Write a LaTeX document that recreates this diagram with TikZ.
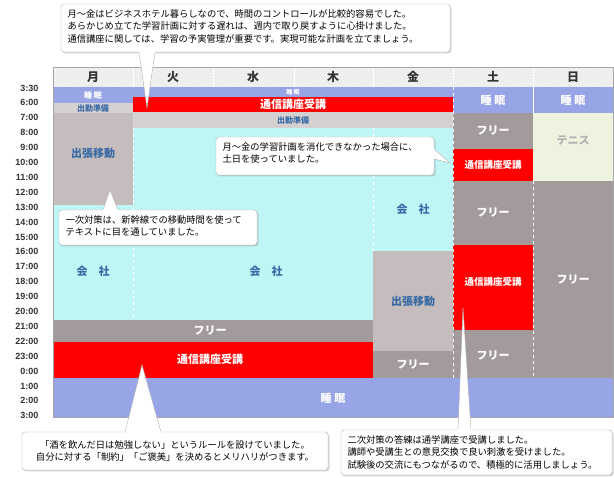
\documentclass[tikz,border=0pt]{standalone}
\usepackage{fontspec}
\setmainfont{Liberation Sans}
\newfontfamily\jp{Noto Sans CJK JP}
\usetikzlibrary{patterns,shadows}
\definecolor{slp}{HTML}{97A5E6}
\definecolor{wrk}{HTML}{C0F5F5}
\definecolor{trv}{HTML}{C5BDBD}
\definecolor{fre}{HTML}{A39A9C}
\definecolor{ten}{HTML}{EEF3E0}
\definecolor{txb}{HTML}{3A6AA5}
\definecolor{cbd}{HTML}{B0B0B0}
\newcommand\blk[7]{\fill[#5] (#1,#2) rectangle (#3,#4);
  \node[#6] (#7) at ({(#1+#3)/2},{(#2+#4)/2}) {};}
\tikzset{
 wl/.style={text=white,font=\jp\bfseries\fontsize{11}{12}\selectfont},
 wls/.style={text=white,font=\jp\bfseries\fontsize{8}{9}\selectfont},
 bl/.style={text=txb,font=\jp\bfseries\fontsize{11}{12}\selectfont},
 bls/.style={text=txb,font=\jp\bfseries\fontsize{8}{9}\selectfont},
 tl/.style={anchor=east,font=\bfseries\fontsize{9}{10}\selectfont,text=black!80},
 callout/.style={draw=cbd,fill=white,rounded corners=3pt,drop shadow={shadow xshift=1.5pt,shadow yshift=-1.5pt,opacity=0.3}},
 ctext/.style={font=\jp\fontsize{9.3}{12.5}\selectfont,align=left,anchor=north west},
 sep/.style={white,dashed,line width=0.5pt},
 hdr/.style={font=\jp\bfseries\fontsize{12}{13}\selectfont,text=black!80}
}
\begin{document}
\begin{tikzpicture}[x=1pt,y=-1pt]
\useasboundingbox (0,0) rectangle (614,478);
\fill[white] (0,0) rectangle (614,478);
% header
\fill[gray!18] (53,67) rectangle (613,87);
\fill[pattern=north east lines,pattern color=white] (53,67) rectangle (613,87);
\foreach \x in {133,213,294,373,453,533} \draw[white,line width=0.8pt] (\x,67) -- (\x,87);
\foreach \t/\x [count=\i] in {月/93,火/173,水/253,木/333,金/413,土/493,日/573}
  \node[hdr] (h\i) at (\x,77) {\t};
% Monday
\blk{53}{87}{133}{103}{slp}{}{m1}
\node[wls] at (93,95) {睡\ 眠};
\blk{53}{103}{133}{113}{trv!70!white}{}{m2}
\node[bls] at (93,108) {出勤準備};
\blk{53}{113}{133}{205}{trv}{}{m3}
\node[bl] at (93,153) {出張移動};
\blk{53}{205}{133}{320}{wrk}{}{m4}
\node[bl] at (93,271) {会\quad 社};
% Tue-Fri
\blk{133}{87}{453}{97}{slp}{}{t1}
\node[wls,font=\jp\bfseries\fontsize{6}{7}\selectfont] at (293,92) {睡\ 眠};
\blk{133}{97}{453}{112}{red}{}{t2}
\node[wl] at (293,104.5) {通信講座受講};
\blk{133}{112}{453}{128}{trv!70!white}{}{t3}
\node[bls] at (293,120) {出勤準備};
\blk{133}{128}{373}{320}{wrk}{}{t4}
\node[bl] at (266,271) {会\quad 社};
\blk{373}{128}{453}{251}{wrk}{}{f1}
\node[bl] at (413,209) {会\quad 社};
\blk{373}{251}{453}{351}{trv}{}{f2}
\node[bl] at (413,301) {出張移動};
\blk{373}{351}{453}{378}{fre}{}{f3}
\node[wl] at (413,365) {フリー};
\blk{53}{320}{373}{342}{fre}{}{mf}
\node[wl] at (210,331) {フリー};
\blk{53}{342}{373}{378}{red}{}{mr}
\node[wl] at (210,359) {通信講座受講};
% Saturday / Sunday
\blk{453}{87}{613}{113}{slp}{}{s0}
\node[wl] at (493,100) {睡\ 眠};
\node[wl] at (573,100) {睡\ 眠};
\blk{453}{113}{533}{149}{fre}{}{s1}
\node[wl] at (493,131) {フリー};
\blk{453}{149}{533}{181}{red}{}{s2}
\node[wl,font=\jp\bfseries\fontsize{9.5}{10}\selectfont] at (493,165) {通信講座受講};
\blk{453}{181}{533}{245}{fre}{}{s3}
\node[wl] at (493,213) {フリー};
\blk{453}{245}{533}{330}{red}{}{s4}
\node[wl,font=\jp\bfseries\fontsize{9.5}{10}\selectfont] at (493,282) {通信講座受講};
\blk{453}{330}{533}{378}{fre}{}{s5}
\node[wl] at (493,356) {フリー};
\blk{533}{113}{613}{181}{ten}{}{u1}
\node[font=\jp\bfseries\fontsize{11}{12}\selectfont,text=gray!60] at (573,141) {テニス};
\blk{533}{181}{613}{378}{fre}{}{u2}
\node[wl] at (573,280) {フリー};
% bottom sleep
\blk{53}{378}{613}{417}{slp}{}{bs}
\node[wl] at (333,398) {睡\ 眠};
% separators
\draw[sep] (133,128) -- (133,320);
\draw[sep] (373,128) -- (373,251);
\draw[sep] (453,87) -- (453,378);
\draw[sep] (533,181) -- (533,378);
\draw[white,line width=0.6pt] (533,87)--(533,113);
\draw[gray!70] (53,67) rectangle (613,417);
% time labels
\foreach \t [count=\i from 0] in {3:30,6:00,7:00,8:00,9:00,10:00,11:00,12:00,13:00,14:00,15:00,16:00,17:00,18:00,19:00,20:00,21:00,22:00,23:00,0:00,1:00,2:00,3:00}
  \node[tl] (tl\i) at (42,{88+\i*14.9}) {\t};
% callouts
\newcommand\callout[9]{%
 \draw[callout] (#1,#2) rectangle (#3,#4);
 \filldraw[fill=white,draw=cbd] (#5) -- (#7) -- (#6);
 \draw[white,line width=1.2pt] (#5) -- (#6);
 \node[ctext] (#8) at (#1+3,#2+2) {#9};}
\callout{61}{4}{450}{52}{139,52}{155,52}{147,108}{c1}{月〜金はビジネスホテル暮らしなので、時間のコントロールが比較的容易でした。\\あらかじめ立てた学習計画に対する遅れは、週内で取り戻すように心掛けました。\\通信講座に関しては、学習の予実管理が重要です。実現可能な計画を立てましょう。}
\callout{216}{137}{434}{175}{434,149}{434,159}{450,163}{c2}{月〜金の学習計画を消化できなかった場合に、\\土日を使っていました。}
\callout{59}{210}{257}{245}{103,210}{118,210}{110,190}{c3}{一次対策は、新幹線での移動時間を使って\\テキストに目を通していました。}
\draw[callout] (22,432) rectangle (328,470);
\filldraw[fill=white,draw=cbd] (125,432) -- (142,365) -- (161,432);
\draw[white,line width=1.2pt] (125,432) -- (161,432);
\node[font=\jp\fontsize{9.3}{12.5}\selectfont,align=center] (c4) at (175,451) {「酒を飲んだ日は勉強しない」というルールを設けていました。\\自分に対する「制約」「ご褒美」を決めるとメリハリがつきます。};
\callout{341}{430}{612}{475}{458,430}{471,430}{463,308}{c5}{二次対策の答練は通学講座で受講しました。\\講師や受講生との意見交換で良い刺激を受けました。\\試験後の交流にもつながるので、積極的に活用しましょう。}
\end{tikzpicture}
\end{document}
